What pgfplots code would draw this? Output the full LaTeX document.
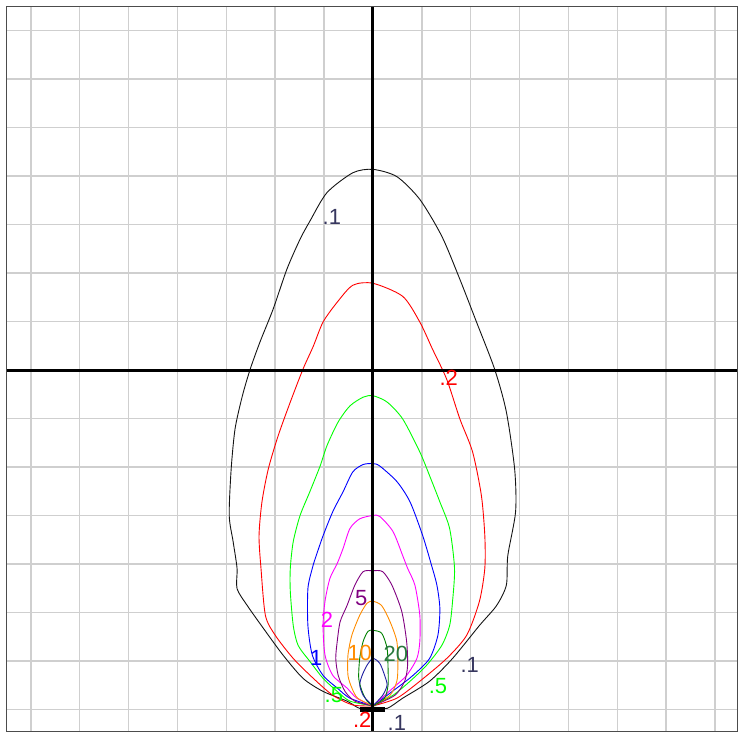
\documentclass[border=0pt]{standalone}
\usepackage{pgfplots}
\pgfplotsset{compat=1.18}
\usepackage{fontspec}
\setmainfont{Liberation Sans}
\definecolor{cBlack}{RGB}{20,20,20}
\definecolor{cRed}{RGB}{255,0,0}
\definecolor{cGreen}{RGB}{0,255,0}
\definecolor{cBlue}{RGB}{0,0,255}
\definecolor{cMag}{RGB}{255,0,255}
\definecolor{cPurple}{RGB}{128,0,128}
\definecolor{cOrange}{RGB}{255,140,0}
\definecolor{cDGreen}{RGB}{0,128,0}
\definecolor{cNavy}{RGB}{30,30,160}
\definecolor{cLab}{RGB}{55,55,95}
\definecolor{cLab20}{RGB}{40,120,60}
\begin{document}
\begin{tikzpicture}
\begin{axis}[
  scale only axis, width=732pt, height=726pt,
  xmin=-7.49, xmax=7.45, ymin=-7.45, ymax=7.49,
  xtick={-7,...,7}, ytick={-7,...,7},
  xticklabels={}, yticklabels={},
  major tick length=0pt,
  grid=major, grid style={line width=1.5pt, color=black!19},
  axis line style={line width=1pt, color=black!70},
  clip=true,
  every axis plot/.append style={line width=0.9pt, mark=none, smooth, tension=0.45},
]
% .1 black
\addplot[cBlack] coordinates {
(0,-6.95) (-0.27,-6.98) (-0.53,-6.83) (-1.02,-6.63) (-1.43,-6.36) (-1.84,-5.88) (-2.24,-5.33) (-2.57,-4.86)
(-2.78,-4.51) (-2.78,-4.09) (-2.86,-3.54) (-2.94,-3.00) (-2.90,-2.04) (-2.82,-1.21) (-2.67,-0.53)
(-2.51,0.02) (-2.31,0.58) (-2.04,1.26) (-1.76,2.08) (-1.49,2.70) (-1.29,3.07) (-0.94,3.66) (-0.41,4.07)
(0,4.14) (0.49,3.99) (0.96,3.52) (1.41,2.76) (1.78,1.87) (2.12,0.99) (2.49,0.02) (2.73,-0.86)
(2.90,-2.04) (2.92,-2.92) (2.76,-3.83) (2.73,-4.44) (2.53,-4.86) (2.18,-5.27) (1.63,-5.95)
(1.16,-6.42) (0.61,-6.77) (0.29,-6.98) (0,-6.95)};
% .2 red
\addplot[cRed] coordinates {
(0,-6.93) (-0.41,-6.91) (-0.82,-6.71) (-1.22,-6.36) (-1.63,-5.95) (-2.00,-5.47) (-2.20,-5.06)
(-2.29,-4.09) (-2.33,-3.42) (-2.27,-2.72) (-2.14,-2.04) (-1.94,-1.36) (-1.69,-0.66) (-1.43,0.02)
(-1.22,0.49) (-1.02,0.99) (-0.73,1.40) (-0.41,1.75) (0,1.79) (0.61,1.52) (0.96,0.99) (1.22,0.43)
(1.51,-0.19) (1.78,-1.01) (2.04,-1.69) (2.22,-2.59) (2.29,-3.42) (2.29,-4.09) (2.18,-4.77)
(1.92,-5.47) (1.51,-5.95) (0.96,-6.42) (0.49,-6.77) (0,-6.93)};
% .5 green
\addplot[cGreen] coordinates {
(0,-6.93) (-0.47,-6.83) (-0.73,-6.63) (-1.02,-6.36) (-1.29,-6.01) (-1.53,-5.68) (-1.63,-5.27)
(-1.69,-4.57) (-1.69,-4.09) (-1.63,-3.54) (-1.49,-3.00) (-1.29,-2.51) (-1.08,-1.98) (-0.94,-1.56)
(-0.71,-1.07) (-0.47,-0.74) (-0.20,-0.56) (0,-0.53) (0.29,-0.66) (0.61,-1.01) (0.96,-1.69)
(1.16,-2.18) (1.37,-2.72) (1.57,-3.27) (1.67,-4.09) (1.63,-4.77) (1.57,-5.27) (1.41,-5.68)
(1.10,-6.09) (0.76,-6.42) (0.41,-6.71) (0,-6.93)};
% 1 blue
\addplot[cBlue] coordinates {
(0,-6.93) (-0.47,-6.77) (-0.73,-6.56) (-1.02,-6.30) (-1.24,-5.88) (-1.33,-5.27) (-1.33,-4.51)
(-1.24,-4.09) (-1.18,-3.89) (-1.02,-3.42) (-0.82,-2.92) (-0.61,-2.51) (-0.41,-2.10) (-0.20,-1.95)
(0,-1.93) (0.14,-1.98) (0.49,-2.30) (0.76,-2.72) (1.02,-3.42) (1.20,-4.03) (1.31,-4.44)
(1.37,-4.92) (1.33,-5.47) (1.16,-5.95) (0.82,-6.30) (0.49,-6.56) (0,-6.93)};
% 2 magenta
\addplot[cMag] coordinates {
(0,-6.93) (-0.33,-6.77) (-0.53,-6.56) (-0.82,-6.30) (-0.98,-5.88) (-1.02,-5.27) (-0.98,-4.77)
(-0.88,-4.30) (-0.73,-3.99) (-0.61,-3.68) (-0.47,-3.27) (-0.27,-3.07) (0,-3.00) (0.14,-3.02)
(0.41,-3.33) (0.61,-3.83) (0.71,-4.09) (0.86,-4.44) (0.96,-5.06) (0.96,-5.60) (0.90,-5.95)
(0.69,-6.30) (0.41,-6.56) (0,-6.93)};
% 5 purple
\addplot[cPurple] coordinates {
(0,-6.93) (-0.37,-6.83) (-0.57,-6.63) (-0.71,-6.30) (-0.76,-5.95) (-0.73,-5.60) (-0.67,-5.19)
(-0.53,-4.86) (-0.37,-4.44) (-0.20,-4.16) (0,-4.14) (0.20,-4.16) (0.39,-4.44) (0.59,-4.98)
(0.69,-5.60) (0.71,-6.09) (0.65,-6.42) (0.45,-6.71) (0,-6.93)};
% 10 orange
\addplot[cOrange] coordinates {
(0,-6.93) (-0.31,-6.77) (-0.43,-6.56) (-0.51,-6.30) (-0.51,-5.88) (-0.43,-5.47) (-0.27,-5.06)
(-0.12,-4.81) (0,-4.77) (0.18,-4.86) (0.35,-5.19) (0.49,-5.60) (0.51,-6.09) (0.49,-6.42)
(0.35,-6.71) (0,-6.93)};
% 20 dark green
\addplot[cDGreen] coordinates {
(0,-6.93) (-0.12,-6.83) (-0.22,-6.63) (-0.29,-6.36) (-0.27,-5.95) (-0.20,-5.60) (-0.10,-5.39)
(0,-5.37) (0.18,-5.43) (0.29,-5.74) (0.31,-6.15) (0.31,-6.50) (0.24,-6.77) (0,-6.93)};
% innermost navy
\addplot[cNavy] coordinates {
(0,-6.93) (-0.10,-6.83) (-0.20,-6.71) (-0.27,-6.50) (-0.22,-6.30) (-0.12,-6.09) (0,-5.95)
(0.14,-6.05) (0.24,-6.30) (0.29,-6.50) (0.20,-6.71) (0,-6.93)};
% main axes
\addplot[black, line width=3pt, sharp plot] coordinates {(0,-7.45) (0,7.49)};
\addplot[black, line width=3pt, sharp plot] coordinates {(-7.49,0) (7.45,0)};
% luminaire bar
\addplot[black, line width=4.5pt, sharp plot] coordinates {(-0.27,-7.0) (0.24,-7.0)};
% labels
\begin{scope}[every node/.style={font=\fontsize{22}{22}\selectfont, inner sep=0pt, anchor=center}]
\node[text=cLab] at (axis cs:-0.84,3.15) {.1};
\node[text=cRed] at (axis cs:1.55,-0.16) {.2};
\node[text=cLab] at (axis cs:1.98,-6.09) {.1};
\node[text=cGreen] at (axis cs:1.33,-6.52) {.5};
\node[text=cLab20] at (axis cs:0.47,-5.86) {20};
\node[text=cOrange] at (axis cs:-0.27,-5.84) {10};
\node[text=cBlue] at (axis cs:-1.16,-5.93) {1};
\node[text=cMag] at (axis cs:-0.94,-5.16) {2};
\node[text=cPurple] at (axis cs:-0.24,-4.71) {5};
\node[text=cRed] at (axis cs:-0.22,-7.22) {.2};
\node[text=cLab] at (axis cs:0.49,-7.28) {.1};
\node[text=cGreen] at (axis cs:-0.80,-6.71) {.5};
\end{scope}
\end{axis}
\path ([shift={(-6pt,-1pt)}]current axis.south west) -- ([shift={(0pt,7pt)}]current axis.north east);
\end{tikzpicture}
\end{document}
